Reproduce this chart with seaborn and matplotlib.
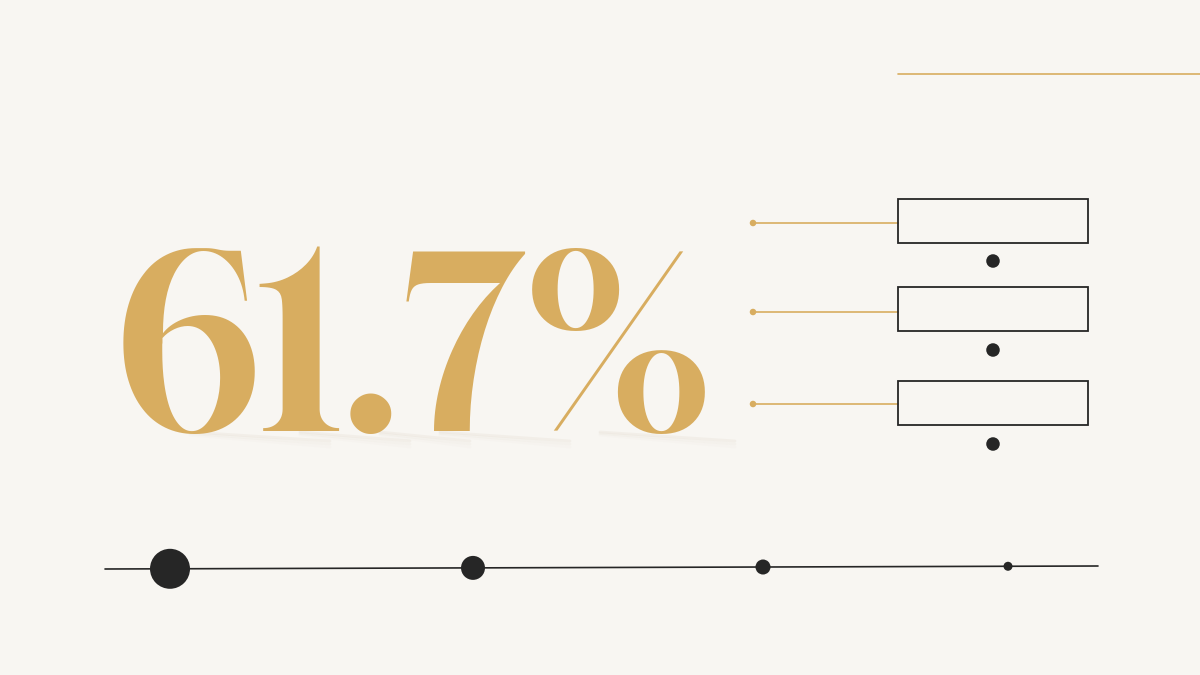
import matplotlib
matplotlib.use("Agg")
import matplotlib.pyplot as plt
import seaborn as sns
import pandas as pd

# data
headline_value = 61.7
tier_labels = ["A", "B", "C", "D"]
tier_weight = [829, 298, 117, 42]       # marker area per tier
row_ids = [1, 2, 3]

BG = "#F8F6F2"
GOLD = "#D8AD60"
INK = "#262626"

sns.set_theme(style="white")
plt.rcParams["font.family"] = ["Gloock", "DejaVu Serif"]

fig = plt.figure(figsize=(12, 6.75), dpi=100, facecolor=BG)
ax = fig.add_axes([0, 0, 1, 1])
ax.set_facecolor(BG)
ax.set_xlim(0, 1200)
ax.set_ylim(675, 0)
ax.axis("off")

# faint shadow under the number
for x0, x1 in [(190, 330), (300, 410), (380, 470), (440, 570), (600, 735)]:
    for k, a in [(0, 0.18), (3, 0.1), (6, 0.05)]:
        ax.plot([x0, x1], [432 + k / 2, 441 + k], color="#D8CDBB", lw=2,
                alpha=a, solid_capstyle="round", zorder=1)

# big number
ax.text(114, 431, f"{headline_value}%", fontsize=173, color=GOLD,
        ha="left", va="baseline", zorder=3)

# top-right accent line
ax.plot([898, 1200], [74, 74], color=GOLD, lw=1.2)

# three label rows: connector, box, dot
rows = pd.DataFrame({"row": row_ids,
                     "line_y": [223, 312, 404],
                     "box_y": [199, 287, 381],
                     "dot_y": [261, 350, 444]})
for _, r in rows.iterrows():
    ax.plot([753, 898], [r.line_y, r.line_y], color=GOLD, lw=1.2, zorder=2)
    ax.add_patch(plt.Rectangle((898, r.box_y), 190, 44, fill=False,
                               edgecolor=INK, lw=1.3, zorder=3))
sns.scatterplot(x=[753] * 3, y=rows.line_y, s=22, color=GOLD,
                edgecolor="none", ax=ax, zorder=4, legend=False)
sns.scatterplot(x=[993] * 3, y=rows.dot_y, s=95, color=INK,
                edgecolor="none", ax=ax, zorder=4, legend=False)

# bottom timeline
tl = pd.DataFrame({"tier": tier_labels,
                   "x": [170, 473, 763, 1008],
                   "weight": tier_weight})
tl["y"] = 569 - (tl["x"] - 105) * 3 / 993
ax.plot([105, 1098], [569, 566], color=INK, lw=1.2, zorder=2)
sns.scatterplot(data=tl, x="x", y="y", s=tl["weight"].tolist(), color=INK,
                edgecolor="none", ax=ax, zorder=4, legend=False)

ax.set_xlim(0, 1200)
ax.set_ylim(675, 0)
fig.savefig("out.png", dpi=100, facecolor=BG)
